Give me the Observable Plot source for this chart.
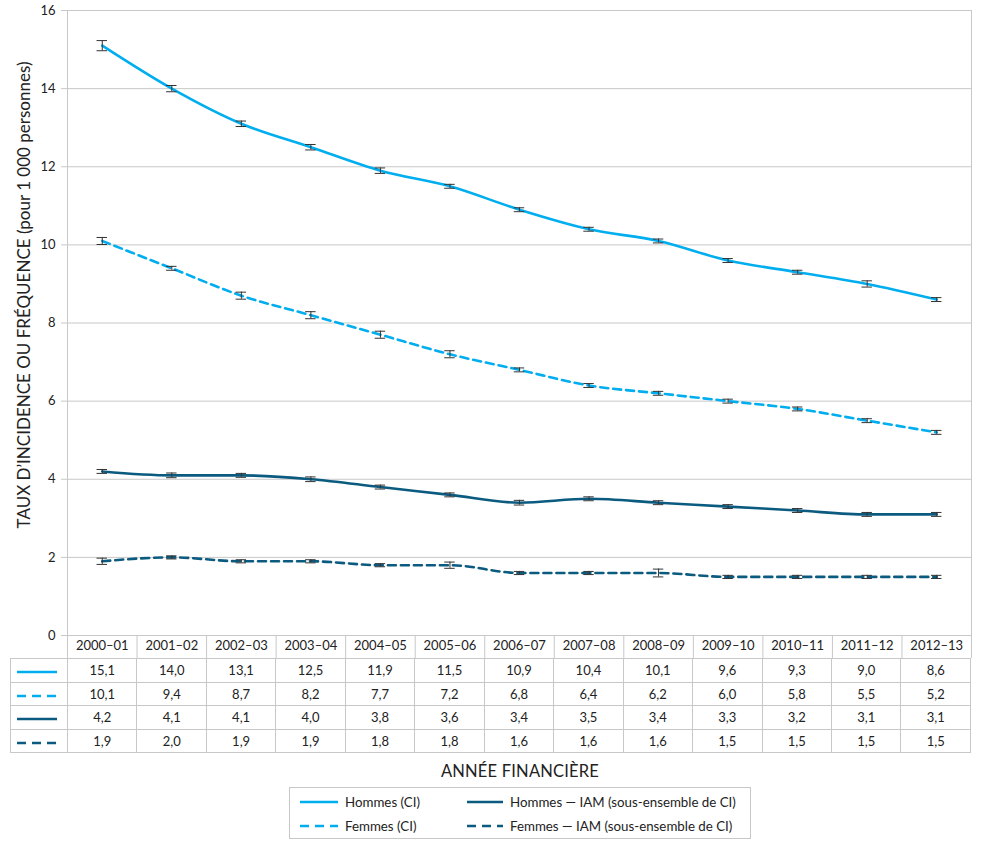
<!DOCTYPE html>
<html><head><meta charset="utf-8">
<script src="https://cdn.jsdelivr.net/npm/d3@7"></script>
<script src="https://cdn.jsdelivr.net/npm/@observablehq/plot@0.6"></script>
<style>
body{margin:0;background:#fff;font-family:Lato,"Noto Sans",sans-serif;color:#222;}
#wrap{position:relative;width:982px;height:845px;overflow:hidden;}
#chart{position:absolute;left:0;top:0;}
#tbl{position:absolute;left:10px;top:658px;border-collapse:collapse;table-layout:fixed;font-size:13px;color:#222;}
#tbl td{border:1px solid #c8c8c8;height:22.5px;padding:0;text-align:center;line-height:22px;}
#xtitle{position:absolute;left:0;width:1040px;top:761px;text-align:center;font-size:16.5px;letter-spacing:0.2px;}
#legend{position:absolute;left:289px;top:787px;width:460px;height:50px;border:1px solid #c8c8c8;font-size:13.3px;}
.li{position:absolute;display:flex;align-items:center;white-space:nowrap;}
.li svg{margin-right:7px;flex:none;}
</style></head>
<body><div id="wrap"><div id="chart"></div><table id="tbl"></table><div id="xtitle">ANNÉE FINANCIÈRE</div><div id="legend"></div></div>
<script>
const years = ["2000–01","2001–02","2002–03","2003–04","2004–05","2005–06","2006–07","2007–08","2008–09","2009–10","2010–11","2011–12","2012–13"];
const seriesNames = ["Hommes (CI)","Femmes (CI)","Hommes — IAM (sous-ensemble de CI)","Femmes — IAM (sous-ensemble de CI)"];
const hommesCI  = [15.1,14.0,13.1,12.5,11.9,11.5,10.9,10.4,10.1,9.6,9.3,9.0,8.6];
const femmesCI  = [10.1,9.4,8.7,8.2,7.7,7.2,6.8,6.4,6.2,6.0,5.8,5.5,5.2];
const hommesIAM = [4.2,4.1,4.1,4.0,3.8,3.6,3.4,3.5,3.4,3.3,3.2,3.1,3.1];
const femmesIAM = [1.9,2.0,1.9,1.9,1.8,1.8,1.6,1.6,1.6,1.5,1.5,1.5,1.5];
// error-bar half widths (estimated)
const errHommesCI  = [0.13,0.08,0.07,0.07,0.07,0.05,0.05,0.05,0.05,0.05,0.05,0.08,0.05];
const errFemmesCI  = [0.09,0.05,0.09,0.09,0.09,0.09,0.05,0.05,0.05,0.05,0.05,0.05,0.05];
const errHommesIAM = [0.05,0.06,0.05,0.06,0.05,0.05,0.06,0.05,0.05,0.05,0.05,0.05,0.05];
const errFemmesIAM = [0.08,0.04,0.04,0.04,0.04,0.08,0.04,0.04,0.1,0.04,0.04,0.04,0.04];
const colors = ["#00aeef","#00aeef","#0b5a7f","#0b5a7f"];
const dashes = [null,"8,5",null,"8,5"];

const seriesVals = [hommesCI,femmesCI,hommesIAM,femmesIAM];
const seriesErrs = [errHommesCI,errFemmesCI,errHommesIAM,errFemmesIAM];
const series = seriesNames.map((name,k)=>({name, values:seriesVals[k], errs:seriesErrs[k], color:colors[k], dash:dashes[k]}));
const rows = [];
series.forEach(s => s.values.forEach((v,i)=>rows.push({series:s.name,i,v,e:s.errs[i]})));
const idx = d3.range(years.length);
const font = "Lato, 'Noto Sans', sans-serif";

const chart = Plot.plot({
  width:982, height:658, marginLeft:67, marginRight:11, marginTop:10, marginBottom:23,
  style:{fontFamily:font, fontSize:"13px", color:"#222", background:"white", overflow:"visible"},
  x:{domain:[-0.5,12.5], label:null},
  y:{domain:[0,16], label:null},
  marks:[
    Plot.gridY(d3.range(0,17,2), {stroke:"#c8c8c8", strokeOpacity:1}),
    Plot.axisY(d3.range(0,17,2), {tickSize:6, tickPadding:6, stroke:"#c8c8c8", fill:"#222", label:null, fontSize:13}),
    Plot.ruleX([-0.5,12.5], {y1:0, y2:16, stroke:"#c8c8c8"}),
    Plot.axisX(d3.range(-0.5,13,1), {tickSize:23, tickFormat:()=>"", stroke:"#c8c8c8", label:null}),
    Plot.axisX(idx, {tickSize:0, tickPadding:5, tickFormat:i=>years[i], fill:"#222", label:null, fontSize:13}),
    Plot.text(["TAUX D’INCIDENCE OU FRÉQUENCE (pour 1\u00a0000 personnes)"], {frameAnchor:"left", textAnchor:"middle", rotate:-90, dx:-43, dy:-28, text:d=>d, fontSize:17, fill:"#222"}),
    ...series.map(s => Plot.line(s.values, {x:(d,i)=>i, y:d=>d, stroke:s.color, strokeWidth:2.6, strokeDasharray:s.dash, curve:"monotone-x"})),
    Plot.ruleX(rows, {x:"i", y1:d=>d.v-d.e, y2:d=>d.v+d.e, stroke:"#333", strokeWidth:1}),
    Plot.ruleY(rows, {y:d=>d.v+d.e, x1:d=>d.i-0.075, x2:d=>d.i+0.075, stroke:"#333", strokeWidth:1}),
    Plot.ruleY(rows, {y:d=>d.v-d.e, x1:d=>d.i-0.075, x2:d=>d.i+0.075, stroke:"#333", strokeWidth:1})
  ]
});
document.getElementById("chart").appendChild(chart);

function swatch(color,dash,w){
  return `<svg width="${w}" height="6"><line x1="0" x2="${w}" y1="3" y2="3" stroke="${color}" stroke-width="2.6" ${dash?`stroke-dasharray="${dash}"`:""}/></svg>`;
}
const fmt = v => v.toFixed(1).replace(".",",");
const colW = 903/13;
let html = `<colgroup><col style="width:57px">${years.map(()=>`<col style="width:${colW}px">`).join("")}</colgroup>`;
series.forEach(s=>{
  html += `<tr><td style="text-align:left;padding-left:6px">${swatch(s.color,s.dash && "9,6",40)}</td>${s.values.map(v=>`<td>${fmt(v)}</td>`).join("")}</tr>`;
});
const tbl = document.getElementById("tbl");
tbl.style.width = (57+903)+"px";
tbl.innerHTML = html;

const lg = document.getElementById("legend");
const pos = [[10,4],[10,28],[177,4],[177,28]];
series.forEach((s,k)=>{
  const d = document.createElement("div");
  d.className="li"; d.style.left=pos[k][0]+"px"; d.style.top=pos[k][1]+"px"; d.style.height="20px";
  d.innerHTML = swatch(s.color, s.dash && "9,6", k<2?38:36) + `<span>${s.name}</span>`;
  lg.appendChild(d);
});
</script></body></html>
